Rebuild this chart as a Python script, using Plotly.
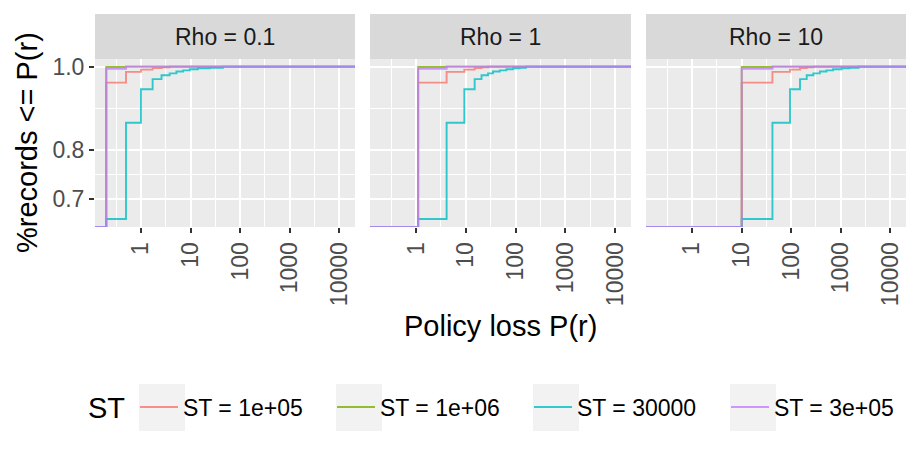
import numpy as np
import plotly.graph_objects as go

W, H = 921, 460
OFF = 8  # page margin of the browser body

# facets and series
rho_labels = ["Rho = 0.1", "Rho = 1", "Rho = 10"]
st_labels = ["ST = 1e+05", "ST = 1e+06", "ST = 30000", "ST = 3e+05"]
st_colors = ["#F8766D", "#7CAE00", "#00BFC4", "#C77CFF"]

# policy loss values where the ECDF steps, one list per facet
loss_rho01 = [0.2, 0.5, 1.0, 1.72, 2.6, 3.8, 5.2, 7.1, 9.7, 14, 24.5, 45]
loss_rho1 = [1.1, 4.1, 9.3, 15, 20.6, 27.8, 35, 48, 65, 88, 120, 160]
loss_rho10 = [10.1, 42, 95, 151, 206, 280, 380, 515, 700, 1040, 1500, 2300]

# share of records <= loss at each step (same shape in every facet)
cdf_st1e5 = [0.958, 0.986, 0.992, 0.996, 0.998, 1.0, 1.0, 1.0, 1.0, 1.0, 1.0, 1.0]
cdf_st1e6 = [0.999, 1.0, 1.0, 1.0, 1.0, 1.0, 1.0, 1.0, 1.0, 1.0, 1.0, 1.0]
cdf_st3e4 = [0.664, 0.86, 0.941, 0.967, 0.977, 0.982, 0.987, 0.990, 0.993, 0.9955, 0.997, 1.0]
cdf_st3e5 = [0.994, 1.0, 1.0, 1.0, 1.0, 1.0, 1.0, 1.0, 1.0, 1.0, 1.0, 1.0]

x_ticks = [1, 10, 100, 1000, 10000]
x_minor = [0.316, 3.16, 31.6, 316, 3162]
y_ticks = [0.7, 0.8, 1.0]
y_tick_text = ["0.7", "0.8", "1.0"]
y_minor = [0.748, 0.894]

losses = [loss_rho01, loss_rho1, loss_rho10]
cdfs = [cdf_st1e5, cdf_st1e6, cdf_st3e4, cdf_st3e5]

x_range = [-0.926, 4.316]
y_range = [np.log10(0.650), np.log10(1.0207)]

FONT = "Liberation Sans"
SMALL = 23
BIG = 29


def fx(px):
    return (px - OFF) / W


def fy(py):
    return 1 - (py - OFF) / H


panels_px = [(95, 355), (370, 631), (646, 906)]
panel_y = [fy(227), fy(59)]
strip_y = [fy(59), fy(14)]
legend_names = ["legend", "legend2", "legend3", "legend4"]

fig = go.Figure()

for i, loss in enumerate(losses):
    for j, cdf in enumerate(cdfs):
        # ECDF padded out to the panel edges like stat_ecdf does
        xs = [10 ** x_range[0]] + loss + [10 ** x_range[1]]
        ys = [10 ** y_range[0]] + cdf + [cdf[-1]]
        fig.add_trace(go.Scatter(
            x=xs, y=ys, mode="lines", line_shape="hv",
            line=dict(color=st_colors[j], width=1.9),
            opacity=0.8, name=st_labels[j], legendgroup=st_labels[j],
            legend=legend_names[j], showlegend=(i == 0),
            xaxis="x" if i == 0 else f"x{i + 1}",
            yaxis="y" if i == 0 else f"y{i + 1}",
        ))

layout = dict(
    width=W, height=H,
    margin=dict(l=0, r=0, t=0, b=0, autoexpand=False),
    paper_bgcolor="white", plot_bgcolor="#EBEBEB",
    font=dict(family=FONT, color="black"),
    showlegend=True,
)

# one legend box per key so each can sit where ggplot put it
for k, name in enumerate(legend_names):
    layout[name] = dict(
        orientation="h", x=fx(143 + 197 * k) - 8 / W, y=fy(407),
        xanchor="left", yanchor="middle",
        font=dict(size=SMALL, family=FONT, color="black"),
        itemwidth=38, bgcolor="rgba(0,0,0,0)",
    )

shapes = []
annotations = []
for i, (x0, x1) in enumerate(panels_px):
    sfx = "" if i == 0 else str(i + 1)
    layout["xaxis" + sfx] = dict(
        type="log", range=x_range, domain=[fx(x0), fx(x1)], anchor="y" + sfx,
        tickmode="array", tickvals=x_ticks, ticktext=[str(v) for v in x_ticks],
        tickangle=-90, ticks="outside", ticklen=5, tickwidth=1.5, tickcolor="#333333",
        tickfont=dict(size=SMALL, color="#4D4D4D", family=FONT),
        showgrid=True, gridcolor="white", gridwidth=2,
        minor=dict(tickvals=x_minor, showgrid=True, gridcolor="white", gridwidth=1, ticks=""),
        zeroline=False, showline=False, fixedrange=True,
    )
    layout["yaxis" + sfx] = dict(
        type="log", range=y_range, domain=panel_y, anchor="x" + sfx,
        tickmode="array", tickvals=y_ticks, ticktext=y_tick_text,
        ticks="outside" if i == 0 else "", ticklen=5, tickwidth=1.5, tickcolor="#333333",
        showticklabels=(i == 0),
        tickfont=dict(size=SMALL, color="#4D4D4D", family=FONT),
        showgrid=True, gridcolor="white", gridwidth=2,
        minor=dict(tickvals=y_minor, showgrid=True, gridcolor="white", gridwidth=1, ticks=""),
        zeroline=False, showline=False, fixedrange=True,
    )
    # facet strip
    shapes.append(dict(type="rect", xref="paper", yref="paper",
                       x0=fx(x0), x1=fx(x1), y0=strip_y[0], y1=strip_y[1],
                       fillcolor="#D9D9D9", line=dict(width=0), layer="below"))
    annotations.append(dict(text=rho_labels[i], xref="paper", yref="paper",
                            x=fx((x0 + x1) / 2), y=sum(strip_y) / 2,
                            showarrow=False, xanchor="center", yanchor="middle",
                            font=dict(size=SMALL, color="#1A1A1A", family=FONT)))

# legend key backgrounds
for k in range(4):
    kx = 139 + 197 * k
    shapes.append(dict(type="rect", xref="paper", yref="paper",
                       x0=fx(kx), x1=fx(kx + 46), y0=fy(431), y1=fy(384),
                       fillcolor="#F2F2F2", line=dict(width=0), layer="below"))

annotations.append(dict(text="ST", xref="paper", yref="paper",
                        x=fx(86), y=fy(408), showarrow=False,
                        xanchor="left", yanchor="middle",
                        font=dict(size=BIG, color="black", family=FONT)))
annotations.append(dict(text="Policy loss P(r)", xref="paper", yref="paper",
                        x=fx(500.5), y=fy(326), showarrow=False,
                        xanchor="center", yanchor="middle",
                        font=dict(size=BIG, color="black", family=FONT)))
annotations.append(dict(text="%records <= P(r)", xref="paper", yref="paper",
                        x=fx(27), y=fy(143), showarrow=False, textangle=-90,
                        xanchor="center", yanchor="middle",
                        font=dict(size=BIG, color="black", family=FONT)))

layout["shapes"] = shapes
layout["annotations"] = annotations
fig.update_layout(**layout)

fig.write_html("out.html")
